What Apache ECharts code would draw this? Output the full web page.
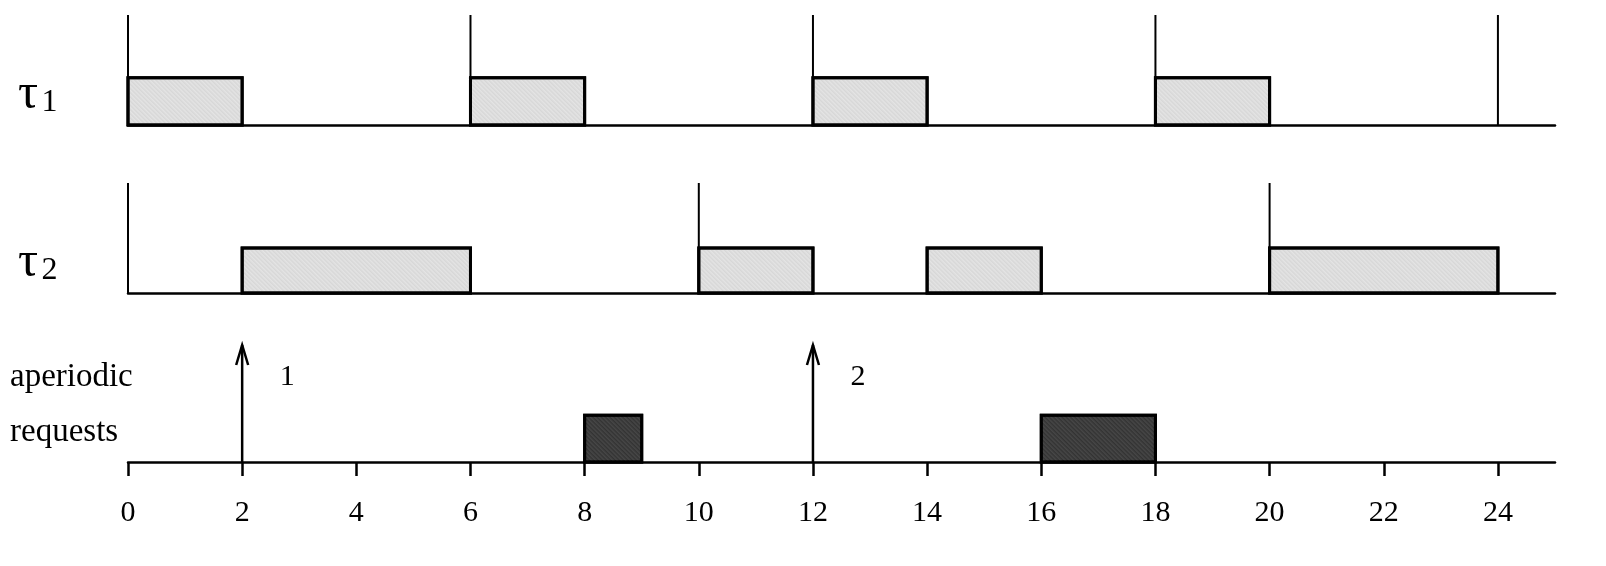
<!DOCTYPE html>
<html>
<head>
<meta charset="UTF-8">
<script src="https://cdn.jsdelivr.net/npm/echarts@6/dist/echarts.min.js"></script>
</head>
<body style="margin:0;background:#fff">
<div id="main" style="width:1606px;height:566px;"></div>
<script>
var ticks = [0, 2, 4, 6, 8, 10, 12, 14, 16, 18, 20, 22, 24];
// task 1: releases and executions
var t1Releases = [0, 6, 12, 18, 24];
var t1Jobs = [[0, 2], [6, 8], [12, 14], [18, 20]];
// task 2
var t2Releases = [0, 10, 20];
var t2Jobs = [[2, 6], [10, 12], [14, 16], [20, 24]];
// aperiodic
var apArrivals = [[2, '1'], [12, '2']];
var apJobs = [[8, 9], [16, 18]];

var chart = echarts.init(document.getElementById('main'));
var font = '"Liberation Serif", serif';
var grids = [
  { left: 128, right: 51, top: 15, height: 110 },
  { left: 128, right: 51, top: 183, height: 110 },
  { left: 128, right: 51, top: 345, height: 117 }
];
var xAxes = grids.map(function (g, i) {
  return {
    gridIndex: i, type: 'value', min: 0, max: 25, interval: 2,
    axisLine: { show: true, lineStyle: { color: '#000', width: 2.5 } },
    axisTick: { show: i === 2, length: 14, customValues: ticks, lineStyle: { color: '#000', width: 2.5 } },
    axisLabel: {
      show: i === 2, margin: 36, color: '#000', fontFamily: font, fontSize: 30,
      customValues: ticks
    },
    splitLine: { show: false }
  };
});
var yAxes = grids.map(function (g, i) {
  return { gridIndex: i, type: 'value', min: 0, max: 1, show: false };
});

function boxSeries(idx, jobs, h, color, decalColor) {
  return {
    type: 'custom', xAxisIndex: idx, yAxisIndex: idx,
    data: jobs,
    renderItem: function (params, api) {
      var p0 = api.coord([api.value(0), h]);
      var p1 = api.coord([api.value(1), 0]);
      return {
        type: 'rect',
        shape: { x: p0[0], y: p0[1], width: p1[0] - p0[0], height: p1[1] - p0[1] },
        style: {
          fill: color, stroke: '#000', lineWidth: 3,
          decal: { symbol: 'circle', symbolSize: 0.6, color: decalColor, dashArrayX: [1, 0], dashArrayY: [2, 1], rotation: 0.78 }
        }
      };
    }
  };
}
function releaseSeries(idx, rel) {
  return {
    type: 'custom', xAxisIndex: idx, yAxisIndex: idx,
    data: rel.map(function (r) { return [r]; }),
    renderItem: function (params, api) {
      var a = api.coord([api.value(0), 0]);
      var b = api.coord([api.value(0), 1]);
      return { type: 'line', shape: { x1: a[0], y1: a[1], x2: b[0], y2: b[1] }, style: { stroke: '#000', lineWidth: 2 } };
    }
  };
}
var arrowSeries = {
  type: 'custom', xAxisIndex: 2, yAxisIndex: 2,
  data: apArrivals,
  renderItem: function (params, api) {
    var a = api.coord([api.value(0), 0]);
    var b = api.coord([api.value(0), 1]);
    return {
      type: 'group',
      children: [
        { type: 'line', shape: { x1: a[0], y1: a[1], x2: b[0], y2: b[1] }, style: { stroke: '#000', lineWidth: 2.5 } },
        { type: 'polyline', shape: { points: [[b[0] - 6, b[1] + 20], [b[0], b[1]], [b[0] + 6, b[1] + 20]] }, style: { stroke: '#000', lineWidth: 2.5, fill: null } },
        { type: 'text', style: { x: b[0] + 45, y: b[1] + 32, text: apArrivals[params.dataIndex][1], fontFamily: font, fontSize: 30, fill: '#000', align: 'center', verticalAlign: 'middle' } }
      ]
    };
  }
};

chart.setOption({
  animation: false,
  grid: grids,
  xAxis: xAxes,
  yAxis: yAxes,
  graphic: [
    { type: 'text', left: 18, top: 70, style: { text: '{a|τ} {b|1}', rich: { a: { fontSize: 50, fontFamily: font }, b: { fontSize: 32, fontFamily: font, padding: [16, 0, 0, 0] } } } },
    { type: 'text', left: 18, top: 238, style: { text: '{a|τ} {b|2}', rich: { a: { fontSize: 50, fontFamily: font }, b: { fontSize: 32, fontFamily: font, padding: [16, 0, 0, 0] } } } },
    { type: 'text', left: 10, top: 350, style: { text: 'aperiodic\nrequests', fontSize: 33, lineHeight: 55, fontFamily: font, fill: '#000' } }
  ],
  series: [
    releaseSeries(0, t1Releases),
    boxSeries(0, t1Jobs, 0.43, '#e4e4e4', '#888'),
    releaseSeries(1, t2Releases),
    boxSeries(1, t2Jobs, 0.41, '#e4e4e4', '#888'),
    boxSeries(2, apJobs, 0.4, '#333', '#bbb'),
    arrowSeries
  ]
});
</script>
</body>
</html>
